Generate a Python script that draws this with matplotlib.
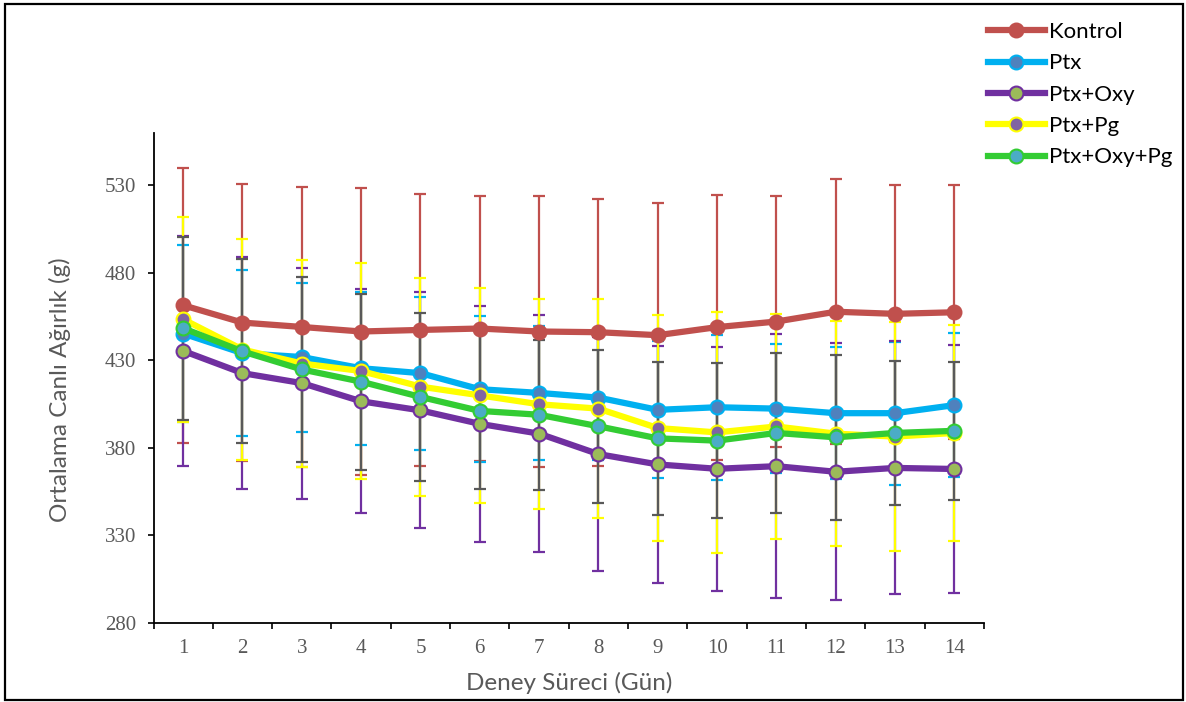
import matplotlib
matplotlib.use("Agg")
import matplotlib.pyplot as plt
from matplotlib.patches import Rectangle
from matplotlib.ticker import FixedLocator, NullFormatter

days = list(range(1, 15))
day_labels = [str(d) for d in days]
series_names = ["Kontrol", "Ptx", "Ptx+Oxy", "Ptx+Pg", "Ptx+Oxy+Pg"]

kontrol_mean = [461.5, 451.6, 449.1, 446.5, 447.4, 448.2, 446.5, 446.1, 444.4, 449.0, 452.2, 457.8, 456.6, 457.5]
kontrol_sd = [78.7, 79.1, 80.2, 82.3, 78.0, 76.0, 77.5, 76.4, 75.8, 75.8, 71.6, 75.7, 73.5, 72.7]

ptx_mean = [445.3, 434.1, 431.9, 425.5, 422.7, 413.5, 411.4, 408.7, 401.7, 403.2, 402.4, 399.8, 399.8, 404.4]
ptx_sd = [50.7, 47.5, 42.6, 43.8, 43.8, 41.9, 38.3, 35.7, 39.2, 41.5, 36.9, 37.9, 40.9, 41.0]

oxy_mean = [435.4, 422.7, 417.0, 406.6, 401.4, 393.7, 388.1, 376.4, 370.5, 368.0, 369.5, 366.3, 368.5, 367.9]
oxy_sd = [65.7, 66.5, 66.0, 64.1, 67.5, 67.6, 67.9, 66.7, 67.6, 69.9, 75.6, 73.5, 72.3, 70.8]

pg_mean = [453.5, 436.2, 428.2, 423.9, 415.0, 410.0, 404.9, 402.4, 391.3, 388.8, 392.2, 388.1, 386.4, 388.5]
pg_sd = [58.7, 63.0, 59.2, 61.6, 62.3, 61.4, 59.9, 62.8, 64.8, 68.8, 64.2, 64.5, 65.3, 62.0]

oxypg_mean = [448.4, 435.1, 424.8, 417.8, 409.1, 401.1, 398.9, 392.3, 385.4, 384.1, 388.5, 386.0, 388.5, 389.7]
oxypg_sd = [52.4, 52.6, 52.9, 50.4, 48.0, 44.7, 43.0, 43.7, 43.7, 44.3, 45.5, 47.1, 41.2, 39.4]

y_ticks = [280, 330, 380, 430, 480, 530]

means = [kontrol_mean, ptx_mean, oxy_mean, pg_mean, oxypg_mean]
sds = [kontrol_sd, ptx_sd, oxy_sd, pg_sd, oxypg_sd]
line_colors = ["#C0504D", "#00B0F0", "#7030A0", "#FFFF00", "#33CC33"]
face_colors = ["#C0504D", "#4F81BD", "#9BBB59", "#8064A2", "#4BACC6"]
err_colors = ["#C0504D", "#00B0F0", "#7030A0", "#FFFF00", "#595959"]

fig = plt.figure(figsize=(11.86, 7.02), dpi=100)
ax = fig.add_axes([153.5 / 1186, 1 - 622.7 / 702, (984 - 153.5) / 1186, (622.7 - 133) / 702])

for i in range(5):
    ax.errorbar(days, means[i], yerr=sds[i], fmt="none", ecolor=err_colors[i],
                elinewidth=1.6, capsize=4.3, capthick=1.6, zorder=2 + i * 0.1)

handles = []
for i in range(5):
    h, = ax.plot(days, means[i], color=line_colors[i], lw=4.5, marker="o",
                 markersize=10, markerfacecolor=face_colors[i],
                 markeredgecolor=line_colors[i], markeredgewidth=1.5,
                 zorder=3 + i, label=series_names[i])
    handles.append(h)

ax.set_xlim(0.5, 14.5)
ax.set_ylim(280, 560)
ax.set_yticks(y_ticks)
ax.set_yticklabels([str(v) for v in y_ticks])
ax.xaxis.set_major_locator(FixedLocator([d + 0.5 for d in [0] + days]))
ax.xaxis.set_major_formatter(NullFormatter())
ax.xaxis.set_minor_locator(FixedLocator(days))
ax.set_xticklabels(day_labels, minor=True)

for s in ["top", "right"]:
    ax.spines[s].set_visible(False)
for s in ["left", "bottom"]:
    ax.spines[s].set_linewidth(1.3)
    ax.spines[s].set_color("black")

ax.tick_params(axis="y", which="major", direction="out", length=4.5, width=1.2,
               pad=8, labelcolor="#595959", labelsize=15)
ax.tick_params(axis="x", which="major", direction="out", length=4.5, width=1.2)
ax.tick_params(axis="x", which="minor", length=0, pad=12, labelcolor="#595959", labelsize=15)
for lab in ax.get_yticklabels() + ax.get_xticklabels(minor=True):
    lab.set_fontfamily("Liberation Serif")

fig.text(60 / 1186, 1 - 390 / 702, "Ortalama Canlı Ağırlık (g)", rotation=90,
         ha="center", va="center", color="#595959", fontsize=17.5, family="Lato")
fig.text(569 / 1186, 1 - 683 / 702, "Deney Süreci (Gün)", ha="center", va="center",
         color="#595959", fontsize=17.5, family="Lato")

leg = fig.legend(handles=handles, loc="upper left", bbox_to_anchor=(988 / 1186, 1 - 22 / 702),
                 frameon=False, prop=dict(family="Lato", size=16), handlelength=2.55,
                 handletextpad=0.2, labelspacing=0.51, borderaxespad=0, borderpad=0)
for t in leg.get_texts():
    t.set_color("black")

fig.patches.append(Rectangle((5 / 1186, 2 / 702), 1178 / 1186, 696 / 702,
                             transform=fig.transFigure, fill=False,
                             edgecolor="black", linewidth=1.6))

fig.savefig("out.png", dpi=100)
